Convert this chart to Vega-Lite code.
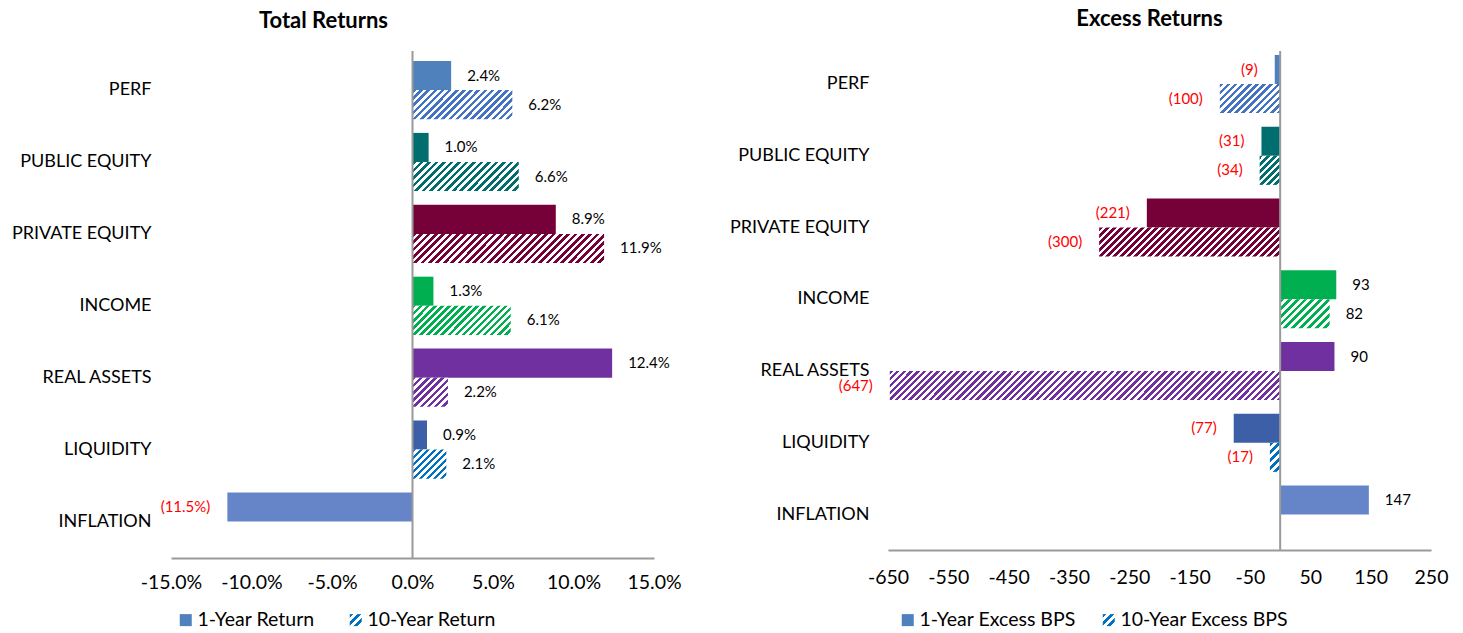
{
"$schema":"https://vega.github.io/schema/vega-lite/v6.json",
"background":"white",
"padding":{"left":11,"top":7,"right":5,"bottom":5},
"config":{"view":{"stroke":null},"font":"Lato","axis":{"grid":false},"locale":{"number":{"decimal":".","thousands":",","grouping":[3],"currency":["$",""],"minus":"-"}}},
"datasets":{
"total":[
{"cat":"PERF","s":"1-Year Return","v":0.024},
{"cat":"PERF","s":"10-Year Return","v":0.062},
{"cat":"PUBLIC EQUITY","s":"1-Year Return","v":0.010},
{"cat":"PUBLIC EQUITY","s":"10-Year Return","v":0.066},
{"cat":"PRIVATE EQUITY","s":"1-Year Return","v":0.089},
{"cat":"PRIVATE EQUITY","s":"10-Year Return","v":0.119},
{"cat":"INCOME","s":"1-Year Return","v":0.013},
{"cat":"INCOME","s":"10-Year Return","v":0.061},
{"cat":"REAL ASSETS","s":"1-Year Return","v":0.124},
{"cat":"REAL ASSETS","s":"10-Year Return","v":0.022},
{"cat":"LIQUIDITY","s":"1-Year Return","v":0.009},
{"cat":"LIQUIDITY","s":"10-Year Return","v":0.021},
{"cat":"INFLATION","s":"1-Year Return","v":-0.115}
],
"excess":[
{"cat":"PERF","s":"1-Year Excess BPS","v":-9},
{"cat":"PERF","s":"10-Year Excess BPS","v":-100},
{"cat":"PUBLIC EQUITY","s":"1-Year Excess BPS","v":-31},
{"cat":"PUBLIC EQUITY","s":"10-Year Excess BPS","v":-34},
{"cat":"PRIVATE EQUITY","s":"1-Year Excess BPS","v":-221},
{"cat":"PRIVATE EQUITY","s":"10-Year Excess BPS","v":-300},
{"cat":"INCOME","s":"1-Year Excess BPS","v":93},
{"cat":"INCOME","s":"10-Year Excess BPS","v":82},
{"cat":"REAL ASSETS","s":"1-Year Excess BPS","v":90},
{"cat":"REAL ASSETS","s":"10-Year Excess BPS","v":-647},
{"cat":"LIQUIDITY","s":"1-Year Excess BPS","v":-77},
{"cat":"LIQUIDITY","s":"10-Year Excess BPS","v":-17},
{"cat":"INFLATION","s":"1-Year Excess BPS","v":147}
]
},
"bounds":"flush",
"spacing":234,
"resolve":{"scale":{"x":"independent","y":"independent","yOffset":"independent","fill":"independent","stroke":"independent","color":"independent"},"legend":{"fill":"independent"}},
"hconcat":[
{
"data":{"name":"total"},
"width":483,"height":507,
"title":{"text":"Total Returns","font":"Lato","fontSize":22,"fontWeight":"bold","color":"#000","anchor":"middle","dx":-89,"offset":0,"baseline":"alphabetic"},
"resolve":{"scale":{"fill":"independent"},"legend":{"fill":"independent"}},
"layer":[
{
"mark":{"type":"bar","strokeWidth":0},
"encoding":{
"y":{"field":"cat","type":"nominal","sort":null,"scale":{"domain":["PERF","PUBLIC EQUITY","PRIVATE EQUITY","INCOME","REAL ASSETS","LIQUIDITY","INFLATION"],"paddingInner":0.19,"paddingOuter":0.1207,"align":0.575},"axis":{"title":null,"domain":false,"ticks":false,"labelFont":"Lato","labelFontSize":18,"labelColor":"#000","labelPadding":20,"labelLimit":300}},
"yOffset":{"field":"s","type":"nominal","sort":null,"scale":{"domain":["1-Year Return","10-Year Return"]}},
"x":{"field":"v","type":"quantitative","scale":{"domain":[-0.15,0.15],"nice":false,"zero":false},"axis":{"title":null,"values":[-0.15,-0.1,-0.05,0,0.05,0.1,0.15],"format":".1%","domainColor":"#9A9A9A","domainWidth":2,"ticks":false,"grid":false,"labelFont":"Lato","labelFontSize":19.5,"labelColor":"#000","labelPadding":15,"labelFlush":false,"labelOverlap":false,"labelBound":false}},
"fill":{"field":"cat","type":"nominal","legend":null,"scale":{"domain":["PERF","PUBLIC EQUITY","PRIVATE EQUITY","INCOME","REAL ASSETS","LIQUIDITY","INFLATION"],"range":["#4F81BD","#006E6E","#760038","#00B050","#7030A0","#3C5FA8","#6585C8"]},
"condition":[
{"test":"datum.s==='10-Year Return'&&datum.cat==='PERF'","value":{"gradient":"linear","x1":0,"y1":0,"x2":1.1899,"y2":0.3451,"stops":[{"offset":0,"color":"#4472C4"},{"offset":0.0278,"color":"#4472C4"},{"offset":0.0278,"color":"#fff"},{"offset":0.0556,"color":"#fff"},{"offset":0.0556,"color":"#4472C4"},{"offset":0.0833,"color":"#4472C4"},{"offset":0.0833,"color":"#fff"},{"offset":0.1111,"color":"#fff"},{"offset":0.1111,"color":"#4472C4"},{"offset":0.1389,"color":"#4472C4"},{"offset":0.1389,"color":"#fff"},{"offset":0.1667,"color":"#fff"},{"offset":0.1667,"color":"#4472C4"},{"offset":0.1944,"color":"#4472C4"},{"offset":0.1944,"color":"#fff"},{"offset":0.2222,"color":"#fff"},{"offset":0.2222,"color":"#4472C4"},{"offset":0.25,"color":"#4472C4"},{"offset":0.25,"color":"#fff"},{"offset":0.2778,"color":"#fff"},{"offset":0.2778,"color":"#4472C4"},{"offset":0.3056,"color":"#4472C4"},{"offset":0.3056,"color":"#fff"},{"offset":0.3333,"color":"#fff"},{"offset":0.3333,"color":"#4472C4"},{"offset":0.3611,"color":"#4472C4"},{"offset":0.3611,"color":"#fff"},{"offset":0.3889,"color":"#fff"},{"offset":0.3889,"color":"#4472C4"},{"offset":0.4167,"color":"#4472C4"},{"offset":0.4167,"color":"#fff"},{"offset":0.4444,"color":"#fff"},{"offset":0.4444,"color":"#4472C4"},{"offset":0.4722,"color":"#4472C4"},{"offset":0.4722,"color":"#fff"},{"offset":0.5,"color":"#fff"},{"offset":0.5,"color":"#4472C4"},{"offset":0.5278,"color":"#4472C4"},{"offset":0.5278,"color":"#fff"},{"offset":0.5556,"color":"#fff"},{"offset":0.5556,"color":"#4472C4"},{"offset":0.5833,"color":"#4472C4"},{"offset":0.5833,"color":"#fff"},{"offset":0.6111,"color":"#fff"},{"offset":0.6111,"color":"#4472C4"},{"offset":0.6389,"color":"#4472C4"},{"offset":0.6389,"color":"#fff"},{"offset":0.6667,"color":"#fff"},{"offset":0.6667,"color":"#4472C4"},{"offset":0.6944,"color":"#4472C4"},{"offset":0.6944,"color":"#fff"},{"offset":0.7222,"color":"#fff"},{"offset":0.7222,"color":"#4472C4"},{"offset":0.75,"color":"#4472C4"},{"offset":0.75,"color":"#fff"},{"offset":0.7778,"color":"#fff"},{"offset":0.7778,"color":"#4472C4"},{"offset":0.8056,"color":"#4472C4"},{"offset":0.8056,"color":"#fff"},{"offset":0.8333,"color":"#fff"},{"offset":0.8333,"color":"#4472C4"},{"offset":0.8611,"color":"#4472C4"},{"offset":0.8611,"color":"#fff"},{"offset":0.8889,"color":"#fff"},{"offset":0.8889,"color":"#4472C4"},{"offset":0.9167,"color":"#4472C4"},{"offset":0.9167,"color":"#fff"},{"offset":0.9444,"color":"#fff"},{"offset":0.9444,"color":"#4472C4"},{"offset":0.9722,"color":"#4472C4"},{"offset":0.9722,"color":"#fff"},{"offset":1,"color":"#fff"}]}},
{"test":"datum.s==='10-Year Return'&&datum.cat==='PUBLIC EQUITY'","value":{"gradient":"linear","x1":0,"y1":0,"x2":1.1846,"y2":0.3232,"stops":[{"offset":0,"color":"#006E6E"},{"offset":0.0278,"color":"#006E6E"},{"offset":0.0278,"color":"#fff"},{"offset":0.0556,"color":"#fff"},{"offset":0.0556,"color":"#006E6E"},{"offset":0.0833,"color":"#006E6E"},{"offset":0.0833,"color":"#fff"},{"offset":0.1111,"color":"#fff"},{"offset":0.1111,"color":"#006E6E"},{"offset":0.1389,"color":"#006E6E"},{"offset":0.1389,"color":"#fff"},{"offset":0.1667,"color":"#fff"},{"offset":0.1667,"color":"#006E6E"},{"offset":0.1944,"color":"#006E6E"},{"offset":0.1944,"color":"#fff"},{"offset":0.2222,"color":"#fff"},{"offset":0.2222,"color":"#006E6E"},{"offset":0.25,"color":"#006E6E"},{"offset":0.25,"color":"#fff"},{"offset":0.2778,"color":"#fff"},{"offset":0.2778,"color":"#006E6E"},{"offset":0.3056,"color":"#006E6E"},{"offset":0.3056,"color":"#fff"},{"offset":0.3333,"color":"#fff"},{"offset":0.3333,"color":"#006E6E"},{"offset":0.3611,"color":"#006E6E"},{"offset":0.3611,"color":"#fff"},{"offset":0.3889,"color":"#fff"},{"offset":0.3889,"color":"#006E6E"},{"offset":0.4167,"color":"#006E6E"},{"offset":0.4167,"color":"#fff"},{"offset":0.4444,"color":"#fff"},{"offset":0.4444,"color":"#006E6E"},{"offset":0.4722,"color":"#006E6E"},{"offset":0.4722,"color":"#fff"},{"offset":0.5,"color":"#fff"},{"offset":0.5,"color":"#006E6E"},{"offset":0.5278,"color":"#006E6E"},{"offset":0.5278,"color":"#fff"},{"offset":0.5556,"color":"#fff"},{"offset":0.5556,"color":"#006E6E"},{"offset":0.5833,"color":"#006E6E"},{"offset":0.5833,"color":"#fff"},{"offset":0.6111,"color":"#fff"},{"offset":0.6111,"color":"#006E6E"},{"offset":0.6389,"color":"#006E6E"},{"offset":0.6389,"color":"#fff"},{"offset":0.6667,"color":"#fff"},{"offset":0.6667,"color":"#006E6E"},{"offset":0.6944,"color":"#006E6E"},{"offset":0.6944,"color":"#fff"},{"offset":0.7222,"color":"#fff"},{"offset":0.7222,"color":"#006E6E"},{"offset":0.75,"color":"#006E6E"},{"offset":0.75,"color":"#fff"},{"offset":0.7778,"color":"#fff"},{"offset":0.7778,"color":"#006E6E"},{"offset":0.8056,"color":"#006E6E"},{"offset":0.8056,"color":"#fff"},{"offset":0.8333,"color":"#fff"},{"offset":0.8333,"color":"#006E6E"},{"offset":0.8611,"color":"#006E6E"},{"offset":0.8611,"color":"#fff"},{"offset":0.8889,"color":"#fff"},{"offset":0.8889,"color":"#006E6E"},{"offset":0.9167,"color":"#006E6E"},{"offset":0.9167,"color":"#fff"},{"offset":0.9444,"color":"#fff"},{"offset":0.9444,"color":"#006E6E"},{"offset":0.9722,"color":"#006E6E"},{"offset":0.9722,"color":"#fff"},{"offset":1,"color":"#fff"}]}},
{"test":"datum.s==='10-Year Return'&&datum.cat==='PRIVATE EQUITY'","value":{"gradient":"linear","x1":0,"y1":0,"x2":1.1256,"y2":0.1704,"stops":[{"offset":0,"color":"#760038"},{"offset":0.0167,"color":"#760038"},{"offset":0.0167,"color":"#fff"},{"offset":0.0333,"color":"#fff"},{"offset":0.0333,"color":"#760038"},{"offset":0.05,"color":"#760038"},{"offset":0.05,"color":"#fff"},{"offset":0.0667,"color":"#fff"},{"offset":0.0667,"color":"#760038"},{"offset":0.0833,"color":"#760038"},{"offset":0.0833,"color":"#fff"},{"offset":0.1,"color":"#fff"},{"offset":0.1,"color":"#760038"},{"offset":0.1167,"color":"#760038"},{"offset":0.1167,"color":"#fff"},{"offset":0.1333,"color":"#fff"},{"offset":0.1333,"color":"#760038"},{"offset":0.15,"color":"#760038"},{"offset":0.15,"color":"#fff"},{"offset":0.1667,"color":"#fff"},{"offset":0.1667,"color":"#760038"},{"offset":0.1833,"color":"#760038"},{"offset":0.1833,"color":"#fff"},{"offset":0.2,"color":"#fff"},{"offset":0.2,"color":"#760038"},{"offset":0.2167,"color":"#760038"},{"offset":0.2167,"color":"#fff"},{"offset":0.2333,"color":"#fff"},{"offset":0.2333,"color":"#760038"},{"offset":0.25,"color":"#760038"},{"offset":0.25,"color":"#fff"},{"offset":0.2667,"color":"#fff"},{"offset":0.2667,"color":"#760038"},{"offset":0.2833,"color":"#760038"},{"offset":0.2833,"color":"#fff"},{"offset":0.3,"color":"#fff"},{"offset":0.3,"color":"#760038"},{"offset":0.3167,"color":"#760038"},{"offset":0.3167,"color":"#fff"},{"offset":0.3333,"color":"#fff"},{"offset":0.3333,"color":"#760038"},{"offset":0.35,"color":"#760038"},{"offset":0.35,"color":"#fff"},{"offset":0.3667,"color":"#fff"},{"offset":0.3667,"color":"#760038"},{"offset":0.3833,"color":"#760038"},{"offset":0.3833,"color":"#fff"},{"offset":0.4,"color":"#fff"},{"offset":0.4,"color":"#760038"},{"offset":0.4167,"color":"#760038"},{"offset":0.4167,"color":"#fff"},{"offset":0.4333,"color":"#fff"},{"offset":0.4333,"color":"#760038"},{"offset":0.45,"color":"#760038"},{"offset":0.45,"color":"#fff"},{"offset":0.4667,"color":"#fff"},{"offset":0.4667,"color":"#760038"},{"offset":0.4833,"color":"#760038"},{"offset":0.4833,"color":"#fff"},{"offset":0.5,"color":"#fff"},{"offset":0.5,"color":"#760038"},{"offset":0.5167,"color":"#760038"},{"offset":0.5167,"color":"#fff"},{"offset":0.5333,"color":"#fff"},{"offset":0.5333,"color":"#760038"},{"offset":0.55,"color":"#760038"},{"offset":0.55,"color":"#fff"},{"offset":0.5667,"color":"#fff"},{"offset":0.5667,"color":"#760038"},{"offset":0.5833,"color":"#760038"},{"offset":0.5833,"color":"#fff"},{"offset":0.6,"color":"#fff"},{"offset":0.6,"color":"#760038"},{"offset":0.6167,"color":"#760038"},{"offset":0.6167,"color":"#fff"},{"offset":0.6333,"color":"#fff"},{"offset":0.6333,"color":"#760038"},{"offset":0.65,"color":"#760038"},{"offset":0.65,"color":"#fff"},{"offset":0.6667,"color":"#fff"},{"offset":0.6667,"color":"#760038"},{"offset":0.6833,"color":"#760038"},{"offset":0.6833,"color":"#fff"},{"offset":0.7,"color":"#fff"},{"offset":0.7,"color":"#760038"},{"offset":0.7167,"color":"#760038"},{"offset":0.7167,"color":"#fff"},{"offset":0.7333,"color":"#fff"},{"offset":0.7333,"color":"#760038"},{"offset":0.75,"color":"#760038"},{"offset":0.75,"color":"#fff"},{"offset":0.7667,"color":"#fff"},{"offset":0.7667,"color":"#760038"},{"offset":0.7833,"color":"#760038"},{"offset":0.7833,"color":"#fff"},{"offset":0.8,"color":"#fff"},{"offset":0.8,"color":"#760038"},{"offset":0.8167,"color":"#760038"},{"offset":0.8167,"color":"#fff"},{"offset":0.8333,"color":"#fff"},{"offset":0.8333,"color":"#760038"},{"offset":0.85,"color":"#760038"},{"offset":0.85,"color":"#fff"},{"offset":0.8667,"color":"#fff"},{"offset":0.8667,"color":"#760038"},{"offset":0.8833,"color":"#760038"},{"offset":0.8833,"color":"#fff"},{"offset":0.9,"color":"#fff"},{"offset":0.9,"color":"#760038"},{"offset":0.9167,"color":"#760038"},{"offset":0.9167,"color":"#fff"},{"offset":0.9333,"color":"#fff"},{"offset":0.9333,"color":"#760038"},{"offset":0.95,"color":"#760038"},{"offset":0.95,"color":"#fff"},{"offset":0.9667,"color":"#fff"},{"offset":0.9667,"color":"#760038"},{"offset":0.9833,"color":"#760038"},{"offset":0.9833,"color":"#fff"},{"offset":1,"color":"#fff"}]}},
{"test":"datum.s==='10-Year Return'&&datum.cat==='INCOME'","value":{"gradient":"linear","x1":0,"y1":0,"x2":1.1914,"y2":0.3518,"stops":[{"offset":0,"color":"#00B050"},{"offset":0.0278,"color":"#00B050"},{"offset":0.0278,"color":"#fff"},{"offset":0.0556,"color":"#fff"},{"offset":0.0556,"color":"#00B050"},{"offset":0.0833,"color":"#00B050"},{"offset":0.0833,"color":"#fff"},{"offset":0.1111,"color":"#fff"},{"offset":0.1111,"color":"#00B050"},{"offset":0.1389,"color":"#00B050"},{"offset":0.1389,"color":"#fff"},{"offset":0.1667,"color":"#fff"},{"offset":0.1667,"color":"#00B050"},{"offset":0.1944,"color":"#00B050"},{"offset":0.1944,"color":"#fff"},{"offset":0.2222,"color":"#fff"},{"offset":0.2222,"color":"#00B050"},{"offset":0.25,"color":"#00B050"},{"offset":0.25,"color":"#fff"},{"offset":0.2778,"color":"#fff"},{"offset":0.2778,"color":"#00B050"},{"offset":0.3056,"color":"#00B050"},{"offset":0.3056,"color":"#fff"},{"offset":0.3333,"color":"#fff"},{"offset":0.3333,"color":"#00B050"},{"offset":0.3611,"color":"#00B050"},{"offset":0.3611,"color":"#fff"},{"offset":0.3889,"color":"#fff"},{"offset":0.3889,"color":"#00B050"},{"offset":0.4167,"color":"#00B050"},{"offset":0.4167,"color":"#fff"},{"offset":0.4444,"color":"#fff"},{"offset":0.4444,"color":"#00B050"},{"offset":0.4722,"color":"#00B050"},{"offset":0.4722,"color":"#fff"},{"offset":0.5,"color":"#fff"},{"offset":0.5,"color":"#00B050"},{"offset":0.5278,"color":"#00B050"},{"offset":0.5278,"color":"#fff"},{"offset":0.5556,"color":"#fff"},{"offset":0.5556,"color":"#00B050"},{"offset":0.5833,"color":"#00B050"},{"offset":0.5833,"color":"#fff"},{"offset":0.6111,"color":"#fff"},{"offset":0.6111,"color":"#00B050"},{"offset":0.6389,"color":"#00B050"},{"offset":0.6389,"color":"#fff"},{"offset":0.6667,"color":"#fff"},{"offset":0.6667,"color":"#00B050"},{"offset":0.6944,"color":"#00B050"},{"offset":0.6944,"color":"#fff"},{"offset":0.7222,"color":"#fff"},{"offset":0.7222,"color":"#00B050"},{"offset":0.75,"color":"#00B050"},{"offset":0.75,"color":"#fff"},{"offset":0.7778,"color":"#fff"},{"offset":0.7778,"color":"#00B050"},{"offset":0.8056,"color":"#00B050"},{"offset":0.8056,"color":"#fff"},{"offset":0.8333,"color":"#fff"},{"offset":0.8333,"color":"#00B050"},{"offset":0.8611,"color":"#00B050"},{"offset":0.8611,"color":"#fff"},{"offset":0.8889,"color":"#fff"},{"offset":0.8889,"color":"#00B050"},{"offset":0.9167,"color":"#00B050"},{"offset":0.9167,"color":"#fff"},{"offset":0.9444,"color":"#fff"},{"offset":0.9444,"color":"#00B050"},{"offset":0.9722,"color":"#00B050"},{"offset":0.9722,"color":"#fff"},{"offset":1,"color":"#fff"}]}},
{"test":"datum.s==='10-Year Return'&&datum.cat==='REAL ASSETS'","value":{"gradient":"linear","x1":0,"y1":0,"x2":1.0886,"y2":0.8918,"stops":[{"offset":0,"color":"#7030A0"},{"offset":0.0556,"color":"#7030A0"},{"offset":0.0556,"color":"#fff"},{"offset":0.1111,"color":"#fff"},{"offset":0.1111,"color":"#7030A0"},{"offset":0.1667,"color":"#7030A0"},{"offset":0.1667,"color":"#fff"},{"offset":0.2222,"color":"#fff"},{"offset":0.2222,"color":"#7030A0"},{"offset":0.2778,"color":"#7030A0"},{"offset":0.2778,"color":"#fff"},{"offset":0.3333,"color":"#fff"},{"offset":0.3333,"color":"#7030A0"},{"offset":0.3889,"color":"#7030A0"},{"offset":0.3889,"color":"#fff"},{"offset":0.4444,"color":"#fff"},{"offset":0.4444,"color":"#7030A0"},{"offset":0.5,"color":"#7030A0"},{"offset":0.5,"color":"#fff"},{"offset":0.5556,"color":"#fff"},{"offset":0.5556,"color":"#7030A0"},{"offset":0.6111,"color":"#7030A0"},{"offset":0.6111,"color":"#fff"},{"offset":0.6667,"color":"#fff"},{"offset":0.6667,"color":"#7030A0"},{"offset":0.7222,"color":"#7030A0"},{"offset":0.7222,"color":"#fff"},{"offset":0.7778,"color":"#fff"},{"offset":0.7778,"color":"#7030A0"},{"offset":0.8333,"color":"#7030A0"},{"offset":0.8333,"color":"#fff"},{"offset":0.8889,"color":"#fff"},{"offset":0.8889,"color":"#7030A0"},{"offset":0.9444,"color":"#7030A0"},{"offset":0.9444,"color":"#fff"},{"offset":1,"color":"#fff"}]}},
{"test":"datum.s==='10-Year Return'&&datum.cat==='LIQUIDITY'","value":{"gradient":"linear","x1":0,"y1":0,"x2":1.0702,"y2":0.9182,"stops":[{"offset":0,"color":"#0070C0"},{"offset":0.0556,"color":"#0070C0"},{"offset":0.0556,"color":"#fff"},{"offset":0.1111,"color":"#fff"},{"offset":0.1111,"color":"#0070C0"},{"offset":0.1667,"color":"#0070C0"},{"offset":0.1667,"color":"#fff"},{"offset":0.2222,"color":"#fff"},{"offset":0.2222,"color":"#0070C0"},{"offset":0.2778,"color":"#0070C0"},{"offset":0.2778,"color":"#fff"},{"offset":0.3333,"color":"#fff"},{"offset":0.3333,"color":"#0070C0"},{"offset":0.3889,"color":"#0070C0"},{"offset":0.3889,"color":"#fff"},{"offset":0.4444,"color":"#fff"},{"offset":0.4444,"color":"#0070C0"},{"offset":0.5,"color":"#0070C0"},{"offset":0.5,"color":"#fff"},{"offset":0.5556,"color":"#fff"},{"offset":0.5556,"color":"#0070C0"},{"offset":0.6111,"color":"#0070C0"},{"offset":0.6111,"color":"#fff"},{"offset":0.6667,"color":"#fff"},{"offset":0.6667,"color":"#0070C0"},{"offset":0.7222,"color":"#0070C0"},{"offset":0.7222,"color":"#fff"},{"offset":0.7778,"color":"#fff"},{"offset":0.7778,"color":"#0070C0"},{"offset":0.8333,"color":"#0070C0"},{"offset":0.8333,"color":"#fff"},{"offset":0.8889,"color":"#fff"},{"offset":0.8889,"color":"#0070C0"},{"offset":0.9444,"color":"#0070C0"},{"offset":0.9444,"color":"#fff"},{"offset":1,"color":"#fff"}]}}
]}
}
},
{
"mark":{"type":"text","text":""},
"encoding":{
"y":{"field":"cat","type":"nominal","sort":null},
"x":{"field":"v","type":"quantitative"},
"fill":{"field":"s","type":"nominal","scale":{"domain":["1-Year Return","10-Year Return"],"range":["#4F81BD",{"expr":"{gradient:'linear',x1:0,y1:0,x2:1,y2:1,stops:[{offset:0,color:'#0070C0'},{offset:0.1667,color:'#0070C0'},{offset:0.1667,color:'#fff'},{offset:0.3333,color:'#fff'},{offset:0.3333,color:'#0070C0'},{offset:0.5,color:'#0070C0'},{offset:0.5,color:'#fff'},{offset:0.6667,color:'#fff'},{offset:0.6667,color:'#0070C0'},{offset:0.8333,color:'#0070C0'},{offset:0.8333,color:'#fff'},{offset:1,color:'#fff'}]}"}]},
"legend":{"orient":"none","legendX":5,"legendY":559,"direction":"horizontal","title":null,"symbolType":"square","symbolSize":144,"symbolStrokeWidth":0,"labelFont":"Lato","labelFontSize":19.5,"labelColor":"#000","labelOffset":2,"labelLimit":300,"columnPadding":31,"padding":0}}
}
},
{
"mark":{"type":"text","fontSize":15,"font":"Lato","baseline":"middle","align":{"expr":"datum.v<0?'right':'left'"},"dx":{"expr":"datum.v<0?-17:16"}},
"encoding":{
"y":{"field":"cat","type":"nominal","sort":null},
"yOffset":{"field":"s","type":"nominal","sort":null},
"x":{"field":"v","type":"quantitative"},
"text":{"field":"v","type":"quantitative","format":"(.1%"},
"color":{"condition":{"test":"datum.v<0","value":"#FF0000"},"value":"#000000"}
}
},
{
"data":{"values":[{"z":0}]},
"mark":{"type":"rule","color":"#9A9A9A","strokeWidth":2},
"encoding":{"x":{"field":"z","type":"quantitative"}}
}
]
},
{
"data":{"name":"excess"},
"width":543,"height":499,
"title":{"text":"Excess Returns","font":"Lato","fontSize":22,"fontWeight":"bold","color":"#000","anchor":"middle","dx":-10,"offset":2.5,"baseline":"alphabetic"},
"resolve":{"scale":{"fill":"independent"},"legend":{"fill":"independent"}},
"layer":[
{
"mark":{"type":"bar","strokeWidth":0},
"encoding":{
"y":{"field":"cat","type":"nominal","sort":null,"scale":{"domain":["PERF","PUBLIC EQUITY","PRIVATE EQUITY","INCOME","REAL ASSETS","LIQUIDITY","INFLATION"],"paddingInner":0.19,"paddingOuter":0.0724,"align":0.385},"axis":{"title":null,"domain":false,"ticks":false,"labelFont":"Lato","labelFontSize":18,"labelColor":"#000","labelPadding":19,"labelLimit":300}},
"yOffset":{"field":"s","type":"nominal","sort":null,"scale":{"domain":["1-Year Excess BPS","10-Year Excess BPS"]}},
"x":{"field":"v","type":"quantitative","scale":{"domain":[-650,250],"nice":false,"zero":false},"axis":{"title":null,"values":[-650,-550,-450,-350,-250,-150,-50,50,150,250],"format":"d","domainColor":"#9A9A9A","domainWidth":2,"ticks":false,"grid":false,"labelFont":"Lato","labelFontSize":19.5,"labelColor":"#000","labelPadding":18,"labelFlush":false,"labelOverlap":false,"labelBound":false}},
"fill":{"field":"cat","type":"nominal","legend":null,"scale":{"domain":["PERF","PUBLIC EQUITY","PRIVATE EQUITY","INCOME","REAL ASSETS","LIQUIDITY","INFLATION"],"range":["#4F81BD","#006E6E","#760038","#00B050","#7030A0","#3C5FA8","#6585C8"]},
"condition":[
{"test":"datum.s==='10-Year Excess BPS'&&datum.cat==='PERF'","value":{"gradient":"linear","x1":0,"y1":0,"x2":1.2027,"y2":0.5784,"stops":[{"offset":0,"color":"#4472C4"},{"offset":0.04,"color":"#4472C4"},{"offset":0.04,"color":"#fff"},{"offset":0.08,"color":"#fff"},{"offset":0.08,"color":"#4472C4"},{"offset":0.12,"color":"#4472C4"},{"offset":0.12,"color":"#fff"},{"offset":0.16,"color":"#fff"},{"offset":0.16,"color":"#4472C4"},{"offset":0.2,"color":"#4472C4"},{"offset":0.2,"color":"#fff"},{"offset":0.24,"color":"#fff"},{"offset":0.24,"color":"#4472C4"},{"offset":0.28,"color":"#4472C4"},{"offset":0.28,"color":"#fff"},{"offset":0.32,"color":"#fff"},{"offset":0.32,"color":"#4472C4"},{"offset":0.36,"color":"#4472C4"},{"offset":0.36,"color":"#fff"},{"offset":0.4,"color":"#fff"},{"offset":0.4,"color":"#4472C4"},{"offset":0.44,"color":"#4472C4"},{"offset":0.44,"color":"#fff"},{"offset":0.48,"color":"#fff"},{"offset":0.48,"color":"#4472C4"},{"offset":0.52,"color":"#4472C4"},{"offset":0.52,"color":"#fff"},{"offset":0.56,"color":"#fff"},{"offset":0.56,"color":"#4472C4"},{"offset":0.6,"color":"#4472C4"},{"offset":0.6,"color":"#fff"},{"offset":0.64,"color":"#fff"},{"offset":0.64,"color":"#4472C4"},{"offset":0.68,"color":"#4472C4"},{"offset":0.68,"color":"#fff"},{"offset":0.72,"color":"#fff"},{"offset":0.72,"color":"#4472C4"},{"offset":0.76,"color":"#4472C4"},{"offset":0.76,"color":"#fff"},{"offset":0.8,"color":"#fff"},{"offset":0.8,"color":"#4472C4"},{"offset":0.84,"color":"#4472C4"},{"offset":0.84,"color":"#fff"},{"offset":0.88,"color":"#fff"},{"offset":0.88,"color":"#4472C4"},{"offset":0.92,"color":"#4472C4"},{"offset":0.92,"color":"#fff"},{"offset":0.96,"color":"#fff"},{"offset":0.96,"color":"#4472C4"},{"offset":1,"color":"#4472C4"}]}},
{"test":"datum.s==='10-Year Excess BPS'&&datum.cat==='PUBLIC EQUITY'","value":{"gradient":"linear","x1":0,"y1":0,"x2":0.8046,"y2":1.1382,"stops":[{"offset":0,"color":"#006E6E"},{"offset":0.0714,"color":"#006E6E"},{"offset":0.0714,"color":"#fff"},{"offset":0.1429,"color":"#fff"},{"offset":0.1429,"color":"#006E6E"},{"offset":0.2143,"color":"#006E6E"},{"offset":0.2143,"color":"#fff"},{"offset":0.2857,"color":"#fff"},{"offset":0.2857,"color":"#006E6E"},{"offset":0.3571,"color":"#006E6E"},{"offset":0.3571,"color":"#fff"},{"offset":0.4286,"color":"#fff"},{"offset":0.4286,"color":"#006E6E"},{"offset":0.5,"color":"#006E6E"},{"offset":0.5,"color":"#fff"},{"offset":0.5714,"color":"#fff"},{"offset":0.5714,"color":"#006E6E"},{"offset":0.6429,"color":"#006E6E"},{"offset":0.6429,"color":"#fff"},{"offset":0.7143,"color":"#fff"},{"offset":0.7143,"color":"#006E6E"},{"offset":0.7857,"color":"#006E6E"},{"offset":0.7857,"color":"#fff"},{"offset":0.8571,"color":"#fff"},{"offset":0.8571,"color":"#006E6E"},{"offset":0.9286,"color":"#006E6E"},{"offset":0.9286,"color":"#fff"},{"offset":1,"color":"#fff"}]}},
{"test":"datum.s==='10-Year Excess BPS'&&datum.cat==='PRIVATE EQUITY'","value":{"gradient":"linear","x1":0,"y1":0,"x2":1.1312,"y2":0.1812,"stops":[{"offset":0,"color":"#760038"},{"offset":0.0167,"color":"#760038"},{"offset":0.0167,"color":"#fff"},{"offset":0.0333,"color":"#fff"},{"offset":0.0333,"color":"#760038"},{"offset":0.05,"color":"#760038"},{"offset":0.05,"color":"#fff"},{"offset":0.0667,"color":"#fff"},{"offset":0.0667,"color":"#760038"},{"offset":0.0833,"color":"#760038"},{"offset":0.0833,"color":"#fff"},{"offset":0.1,"color":"#fff"},{"offset":0.1,"color":"#760038"},{"offset":0.1167,"color":"#760038"},{"offset":0.1167,"color":"#fff"},{"offset":0.1333,"color":"#fff"},{"offset":0.1333,"color":"#760038"},{"offset":0.15,"color":"#760038"},{"offset":0.15,"color":"#fff"},{"offset":0.1667,"color":"#fff"},{"offset":0.1667,"color":"#760038"},{"offset":0.1833,"color":"#760038"},{"offset":0.1833,"color":"#fff"},{"offset":0.2,"color":"#fff"},{"offset":0.2,"color":"#760038"},{"offset":0.2167,"color":"#760038"},{"offset":0.2167,"color":"#fff"},{"offset":0.2333,"color":"#fff"},{"offset":0.2333,"color":"#760038"},{"offset":0.25,"color":"#760038"},{"offset":0.25,"color":"#fff"},{"offset":0.2667,"color":"#fff"},{"offset":0.2667,"color":"#760038"},{"offset":0.2833,"color":"#760038"},{"offset":0.2833,"color":"#fff"},{"offset":0.3,"color":"#fff"},{"offset":0.3,"color":"#760038"},{"offset":0.3167,"color":"#760038"},{"offset":0.3167,"color":"#fff"},{"offset":0.3333,"color":"#fff"},{"offset":0.3333,"color":"#760038"},{"offset":0.35,"color":"#760038"},{"offset":0.35,"color":"#fff"},{"offset":0.3667,"color":"#fff"},{"offset":0.3667,"color":"#760038"},{"offset":0.3833,"color":"#760038"},{"offset":0.3833,"color":"#fff"},{"offset":0.4,"color":"#fff"},{"offset":0.4,"color":"#760038"},{"offset":0.4167,"color":"#760038"},{"offset":0.4167,"color":"#fff"},{"offset":0.4333,"color":"#fff"},{"offset":0.4333,"color":"#760038"},{"offset":0.45,"color":"#760038"},{"offset":0.45,"color":"#fff"},{"offset":0.4667,"color":"#fff"},{"offset":0.4667,"color":"#760038"},{"offset":0.4833,"color":"#760038"},{"offset":0.4833,"color":"#fff"},{"offset":0.5,"color":"#fff"},{"offset":0.5,"color":"#760038"},{"offset":0.5167,"color":"#760038"},{"offset":0.5167,"color":"#fff"},{"offset":0.5333,"color":"#fff"},{"offset":0.5333,"color":"#760038"},{"offset":0.55,"color":"#760038"},{"offset":0.55,"color":"#fff"},{"offset":0.5667,"color":"#fff"},{"offset":0.5667,"color":"#760038"},{"offset":0.5833,"color":"#760038"},{"offset":0.5833,"color":"#fff"},{"offset":0.6,"color":"#fff"},{"offset":0.6,"color":"#760038"},{"offset":0.6167,"color":"#760038"},{"offset":0.6167,"color":"#fff"},{"offset":0.6333,"color":"#fff"},{"offset":0.6333,"color":"#760038"},{"offset":0.65,"color":"#760038"},{"offset":0.65,"color":"#fff"},{"offset":0.6667,"color":"#fff"},{"offset":0.6667,"color":"#760038"},{"offset":0.6833,"color":"#760038"},{"offset":0.6833,"color":"#fff"},{"offset":0.7,"color":"#fff"},{"offset":0.7,"color":"#760038"},{"offset":0.7167,"color":"#760038"},{"offset":0.7167,"color":"#fff"},{"offset":0.7333,"color":"#fff"},{"offset":0.7333,"color":"#760038"},{"offset":0.75,"color":"#760038"},{"offset":0.75,"color":"#fff"},{"offset":0.7667,"color":"#fff"},{"offset":0.7667,"color":"#760038"},{"offset":0.7833,"color":"#760038"},{"offset":0.7833,"color":"#fff"},{"offset":0.8,"color":"#fff"},{"offset":0.8,"color":"#760038"},{"offset":0.8167,"color":"#760038"},{"offset":0.8167,"color":"#fff"},{"offset":0.8333,"color":"#fff"},{"offset":0.8333,"color":"#760038"},{"offset":0.85,"color":"#760038"},{"offset":0.85,"color":"#fff"},{"offset":0.8667,"color":"#fff"},{"offset":0.8667,"color":"#760038"},{"offset":0.8833,"color":"#760038"},{"offset":0.8833,"color":"#fff"},{"offset":0.9,"color":"#fff"},{"offset":0.9,"color":"#760038"},{"offset":0.9167,"color":"#760038"},{"offset":0.9167,"color":"#fff"},{"offset":0.9333,"color":"#fff"},{"offset":0.9333,"color":"#760038"},{"offset":0.95,"color":"#760038"},{"offset":0.95,"color":"#fff"},{"offset":0.9667,"color":"#fff"},{"offset":0.9667,"color":"#760038"},{"offset":0.9833,"color":"#760038"},{"offset":0.9833,"color":"#fff"},{"offset":1,"color":"#fff"}]}},
{"test":"datum.s==='10-Year Excess BPS'&&datum.cat==='INCOME'","value":{"gradient":"linear","x1":0,"y1":0,"x2":1.1806,"y2":0.6917,"stops":[{"offset":0,"color":"#00B050"},{"offset":0.05,"color":"#00B050"},{"offset":0.05,"color":"#fff"},{"offset":0.1,"color":"#fff"},{"offset":0.1,"color":"#00B050"},{"offset":0.15,"color":"#00B050"},{"offset":0.15,"color":"#fff"},{"offset":0.2,"color":"#fff"},{"offset":0.2,"color":"#00B050"},{"offset":0.25,"color":"#00B050"},{"offset":0.25,"color":"#fff"},{"offset":0.3,"color":"#fff"},{"offset":0.3,"color":"#00B050"},{"offset":0.35,"color":"#00B050"},{"offset":0.35,"color":"#fff"},{"offset":0.4,"color":"#fff"},{"offset":0.4,"color":"#00B050"},{"offset":0.45,"color":"#00B050"},{"offset":0.45,"color":"#fff"},{"offset":0.5,"color":"#fff"},{"offset":0.5,"color":"#00B050"},{"offset":0.55,"color":"#00B050"},{"offset":0.55,"color":"#fff"},{"offset":0.6,"color":"#fff"},{"offset":0.6,"color":"#00B050"},{"offset":0.65,"color":"#00B050"},{"offset":0.65,"color":"#fff"},{"offset":0.7,"color":"#fff"},{"offset":0.7,"color":"#00B050"},{"offset":0.75,"color":"#00B050"},{"offset":0.75,"color":"#fff"},{"offset":0.8,"color":"#fff"},{"offset":0.8,"color":"#00B050"},{"offset":0.85,"color":"#00B050"},{"offset":0.85,"color":"#fff"},{"offset":0.9,"color":"#fff"},{"offset":0.9,"color":"#00B050"},{"offset":0.95,"color":"#00B050"},{"offset":0.95,"color":"#fff"},{"offset":1,"color":"#fff"}]}},
{"test":"datum.s==='10-Year Excess BPS'&&datum.cat==='REAL ASSETS'","value":{"gradient":"linear","x1":0,"y1":0,"x2":1.0684,"y2":0.0794,"stops":[{"offset":0,"color":"#7030A0"},{"offset":0.008,"color":"#7030A0"},{"offset":0.008,"color":"#fff"},{"offset":0.016,"color":"#fff"},{"offset":0.016,"color":"#7030A0"},{"offset":0.024,"color":"#7030A0"},{"offset":0.024,"color":"#fff"},{"offset":0.032,"color":"#fff"},{"offset":0.032,"color":"#7030A0"},{"offset":0.04,"color":"#7030A0"},{"offset":0.04,"color":"#fff"},{"offset":0.048,"color":"#fff"},{"offset":0.048,"color":"#7030A0"},{"offset":0.056,"color":"#7030A0"},{"offset":0.056,"color":"#fff"},{"offset":0.064,"color":"#fff"},{"offset":0.064,"color":"#7030A0"},{"offset":0.072,"color":"#7030A0"},{"offset":0.072,"color":"#fff"},{"offset":0.08,"color":"#fff"},{"offset":0.08,"color":"#7030A0"},{"offset":0.088,"color":"#7030A0"},{"offset":0.088,"color":"#fff"},{"offset":0.096,"color":"#fff"},{"offset":0.096,"color":"#7030A0"},{"offset":0.104,"color":"#7030A0"},{"offset":0.104,"color":"#fff"},{"offset":0.112,"color":"#fff"},{"offset":0.112,"color":"#7030A0"},{"offset":0.12,"color":"#7030A0"},{"offset":0.12,"color":"#fff"},{"offset":0.128,"color":"#fff"},{"offset":0.128,"color":"#7030A0"},{"offset":0.136,"color":"#7030A0"},{"offset":0.136,"color":"#fff"},{"offset":0.144,"color":"#fff"},{"offset":0.144,"color":"#7030A0"},{"offset":0.152,"color":"#7030A0"},{"offset":0.152,"color":"#fff"},{"offset":0.16,"color":"#fff"},{"offset":0.16,"color":"#7030A0"},{"offset":0.168,"color":"#7030A0"},{"offset":0.168,"color":"#fff"},{"offset":0.176,"color":"#fff"},{"offset":0.176,"color":"#7030A0"},{"offset":0.184,"color":"#7030A0"},{"offset":0.184,"color":"#fff"},{"offset":0.192,"color":"#fff"},{"offset":0.192,"color":"#7030A0"},{"offset":0.2,"color":"#7030A0"},{"offset":0.2,"color":"#fff"},{"offset":0.208,"color":"#fff"},{"offset":0.208,"color":"#7030A0"},{"offset":0.216,"color":"#7030A0"},{"offset":0.216,"color":"#fff"},{"offset":0.224,"color":"#fff"},{"offset":0.224,"color":"#7030A0"},{"offset":0.232,"color":"#7030A0"},{"offset":0.232,"color":"#fff"},{"offset":0.24,"color":"#fff"},{"offset":0.24,"color":"#7030A0"},{"offset":0.248,"color":"#7030A0"},{"offset":0.248,"color":"#fff"},{"offset":0.256,"color":"#fff"},{"offset":0.256,"color":"#7030A0"},{"offset":0.264,"color":"#7030A0"},{"offset":0.264,"color":"#fff"},{"offset":0.272,"color":"#fff"},{"offset":0.272,"color":"#7030A0"},{"offset":0.28,"color":"#7030A0"},{"offset":0.28,"color":"#fff"},{"offset":0.288,"color":"#fff"},{"offset":0.288,"color":"#7030A0"},{"offset":0.296,"color":"#7030A0"},{"offset":0.296,"color":"#fff"},{"offset":0.304,"color":"#fff"},{"offset":0.304,"color":"#7030A0"},{"offset":0.312,"color":"#7030A0"},{"offset":0.312,"color":"#fff"},{"offset":0.32,"color":"#fff"},{"offset":0.32,"color":"#7030A0"},{"offset":0.328,"color":"#7030A0"},{"offset":0.328,"color":"#fff"},{"offset":0.336,"color":"#fff"},{"offset":0.336,"color":"#7030A0"},{"offset":0.344,"color":"#7030A0"},{"offset":0.344,"color":"#fff"},{"offset":0.352,"color":"#fff"},{"offset":0.352,"color":"#7030A0"},{"offset":0.36,"color":"#7030A0"},{"offset":0.36,"color":"#fff"},{"offset":0.368,"color":"#fff"},{"offset":0.368,"color":"#7030A0"},{"offset":0.376,"color":"#7030A0"},{"offset":0.376,"color":"#fff"},{"offset":0.384,"color":"#fff"},{"offset":0.384,"color":"#7030A0"},{"offset":0.392,"color":"#7030A0"},{"offset":0.392,"color":"#fff"},{"offset":0.4,"color":"#fff"},{"offset":0.4,"color":"#7030A0"},{"offset":0.408,"color":"#7030A0"},{"offset":0.408,"color":"#fff"},{"offset":0.416,"color":"#fff"},{"offset":0.416,"color":"#7030A0"},{"offset":0.424,"color":"#7030A0"},{"offset":0.424,"color":"#fff"},{"offset":0.432,"color":"#fff"},{"offset":0.432,"color":"#7030A0"},{"offset":0.44,"color":"#7030A0"},{"offset":0.44,"color":"#fff"},{"offset":0.448,"color":"#fff"},{"offset":0.448,"color":"#7030A0"},{"offset":0.456,"color":"#7030A0"},{"offset":0.456,"color":"#fff"},{"offset":0.464,"color":"#fff"},{"offset":0.464,"color":"#7030A0"},{"offset":0.472,"color":"#7030A0"},{"offset":0.472,"color":"#fff"},{"offset":0.48,"color":"#fff"},{"offset":0.48,"color":"#7030A0"},{"offset":0.488,"color":"#7030A0"},{"offset":0.488,"color":"#fff"},{"offset":0.496,"color":"#fff"},{"offset":0.496,"color":"#7030A0"},{"offset":0.504,"color":"#7030A0"},{"offset":0.504,"color":"#fff"},{"offset":0.512,"color":"#fff"},{"offset":0.512,"color":"#7030A0"},{"offset":0.52,"color":"#7030A0"},{"offset":0.52,"color":"#fff"},{"offset":0.528,"color":"#fff"},{"offset":0.528,"color":"#7030A0"},{"offset":0.536,"color":"#7030A0"},{"offset":0.536,"color":"#fff"},{"offset":0.544,"color":"#fff"},{"offset":0.544,"color":"#7030A0"},{"offset":0.552,"color":"#7030A0"},{"offset":0.552,"color":"#fff"},{"offset":0.56,"color":"#fff"},{"offset":0.56,"color":"#7030A0"},{"offset":0.568,"color":"#7030A0"},{"offset":0.568,"color":"#fff"},{"offset":0.576,"color":"#fff"},{"offset":0.576,"color":"#7030A0"},{"offset":0.584,"color":"#7030A0"},{"offset":0.584,"color":"#fff"},{"offset":0.592,"color":"#fff"},{"offset":0.592,"color":"#7030A0"},{"offset":0.6,"color":"#7030A0"},{"offset":0.6,"color":"#fff"},{"offset":0.608,"color":"#fff"},{"offset":0.608,"color":"#7030A0"},{"offset":0.616,"color":"#7030A0"},{"offset":0.616,"color":"#fff"},{"offset":0.624,"color":"#fff"},{"offset":0.624,"color":"#7030A0"},{"offset":0.632,"color":"#7030A0"},{"offset":0.632,"color":"#fff"},{"offset":0.64,"color":"#fff"},{"offset":0.64,"color":"#7030A0"},{"offset":0.648,"color":"#7030A0"},{"offset":0.648,"color":"#fff"},{"offset":0.656,"color":"#fff"},{"offset":0.656,"color":"#7030A0"},{"offset":0.664,"color":"#7030A0"},{"offset":0.664,"color":"#fff"},{"offset":0.672,"color":"#fff"},{"offset":0.672,"color":"#7030A0"},{"offset":0.68,"color":"#7030A0"},{"offset":0.68,"color":"#fff"},{"offset":0.688,"color":"#fff"},{"offset":0.688,"color":"#7030A0"},{"offset":0.696,"color":"#7030A0"},{"offset":0.696,"color":"#fff"},{"offset":0.704,"color":"#fff"},{"offset":0.704,"color":"#7030A0"},{"offset":0.712,"color":"#7030A0"},{"offset":0.712,"color":"#fff"},{"offset":0.72,"color":"#fff"},{"offset":0.72,"color":"#7030A0"},{"offset":0.728,"color":"#7030A0"},{"offset":0.728,"color":"#fff"},{"offset":0.736,"color":"#fff"},{"offset":0.736,"color":"#7030A0"},{"offset":0.744,"color":"#7030A0"},{"offset":0.744,"color":"#fff"},{"offset":0.752,"color":"#fff"},{"offset":0.752,"color":"#7030A0"},{"offset":0.76,"color":"#7030A0"},{"offset":0.76,"color":"#fff"},{"offset":0.768,"color":"#fff"},{"offset":0.768,"color":"#7030A0"},{"offset":0.776,"color":"#7030A0"},{"offset":0.776,"color":"#fff"},{"offset":0.784,"color":"#fff"},{"offset":0.784,"color":"#7030A0"},{"offset":0.792,"color":"#7030A0"},{"offset":0.792,"color":"#fff"},{"offset":0.8,"color":"#fff"},{"offset":0.8,"color":"#7030A0"},{"offset":0.808,"color":"#7030A0"},{"offset":0.808,"color":"#fff"},{"offset":0.816,"color":"#fff"},{"offset":0.816,"color":"#7030A0"},{"offset":0.824,"color":"#7030A0"},{"offset":0.824,"color":"#fff"},{"offset":0.832,"color":"#fff"},{"offset":0.832,"color":"#7030A0"},{"offset":0.84,"color":"#7030A0"},{"offset":0.84,"color":"#fff"},{"offset":0.848,"color":"#fff"},{"offset":0.848,"color":"#7030A0"},{"offset":0.856,"color":"#7030A0"},{"offset":0.856,"color":"#fff"},{"offset":0.864,"color":"#fff"},{"offset":0.864,"color":"#7030A0"},{"offset":0.872,"color":"#7030A0"},{"offset":0.872,"color":"#fff"},{"offset":0.88,"color":"#fff"},{"offset":0.88,"color":"#7030A0"},{"offset":0.888,"color":"#7030A0"},{"offset":0.888,"color":"#fff"},{"offset":0.896,"color":"#fff"},{"offset":0.896,"color":"#7030A0"},{"offset":0.904,"color":"#7030A0"},{"offset":0.904,"color":"#fff"},{"offset":0.912,"color":"#fff"},{"offset":0.912,"color":"#7030A0"},{"offset":0.92,"color":"#7030A0"},{"offset":0.92,"color":"#fff"},{"offset":0.928,"color":"#fff"},{"offset":0.928,"color":"#7030A0"},{"offset":0.936,"color":"#7030A0"},{"offset":0.936,"color":"#fff"},{"offset":0.944,"color":"#fff"},{"offset":0.944,"color":"#7030A0"},{"offset":0.952,"color":"#7030A0"},{"offset":0.952,"color":"#fff"},{"offset":0.96,"color":"#fff"},{"offset":0.96,"color":"#7030A0"},{"offset":0.968,"color":"#7030A0"},{"offset":0.968,"color":"#fff"},{"offset":0.976,"color":"#fff"},{"offset":0.976,"color":"#7030A0"},{"offset":0.984,"color":"#7030A0"},{"offset":0.984,"color":"#fff"},{"offset":0.992,"color":"#fff"},{"offset":0.992,"color":"#7030A0"},{"offset":1,"color":"#7030A0"}]}},
{"test":"datum.s==='10-Year Excess BPS'&&datum.cat==='LIQUIDITY'","value":{"gradient":"linear","x1":0,"y1":0,"x2":0.4274,"y2":1.2034,"stops":[{"offset":0,"color":"#0070C0"},{"offset":0.1,"color":"#0070C0"},{"offset":0.1,"color":"#fff"},{"offset":0.2,"color":"#fff"},{"offset":0.2,"color":"#0070C0"},{"offset":0.3,"color":"#0070C0"},{"offset":0.3,"color":"#fff"},{"offset":0.4,"color":"#fff"},{"offset":0.4,"color":"#0070C0"},{"offset":0.5,"color":"#0070C0"},{"offset":0.5,"color":"#fff"},{"offset":0.6,"color":"#fff"},{"offset":0.6,"color":"#0070C0"},{"offset":0.7,"color":"#0070C0"},{"offset":0.7,"color":"#fff"},{"offset":0.8,"color":"#fff"},{"offset":0.8,"color":"#0070C0"},{"offset":0.9,"color":"#0070C0"},{"offset":0.9,"color":"#fff"},{"offset":1,"color":"#fff"}]}}
]}
}
},
{
"mark":{"type":"text","text":""},
"encoding":{
"y":{"field":"cat","type":"nominal","sort":null},
"x":{"field":"v","type":"quantitative"},
"fill":{"field":"s","type":"nominal","scale":{"domain":["1-Year Excess BPS","10-Year Excess BPS"],"range":["#4F81BD",{"expr":"{gradient:'linear',x1:0,y1:0,x2:1,y2:1,stops:[{offset:0,color:'#0070C0'},{offset:0.1667,color:'#0070C0'},{offset:0.1667,color:'#fff'},{offset:0.3333,color:'#fff'},{offset:0.3333,color:'#0070C0'},{offset:0.5,color:'#0070C0'},{offset:0.5,color:'#fff'},{offset:0.6667,color:'#fff'},{offset:0.6667,color:'#0070C0'},{offset:0.8333,color:'#0070C0'},{offset:0.8333,color:'#fff'},{offset:1,color:'#fff'}]}"}]},
"legend":{"orient":"none","legendX":10,"legendY":559,"direction":"horizontal","title":null,"symbolType":"square","symbolSize":144,"symbolStrokeWidth":0,"labelFont":"Lato","labelFontSize":19.5,"labelColor":"#000","labelOffset":2,"labelLimit":300,"columnPadding":23,"padding":0}}
}
},
{
"mark":{"type":"text","fontSize":15,"font":"Lato","baseline":"middle","align":{"expr":"datum.v<0?'right':'left'"},"dx":{"expr":"datum.v<0?-17:16"}},
"encoding":{
"y":{"field":"cat","type":"nominal","sort":null},
"yOffset":{"field":"s","type":"nominal","sort":null},
"x":{"field":"v","type":"quantitative"},
"text":{"field":"v","type":"quantitative","format":"(d"},
"color":{"condition":{"test":"datum.v<0","value":"#FF0000"},"value":"#000000"}
}
},
{
"data":{"values":[{"z":0}]},
"mark":{"type":"rule","color":"#9A9A9A","strokeWidth":2},
"encoding":{"x":{"field":"z","type":"quantitative"}}
}
]
}
]
}
